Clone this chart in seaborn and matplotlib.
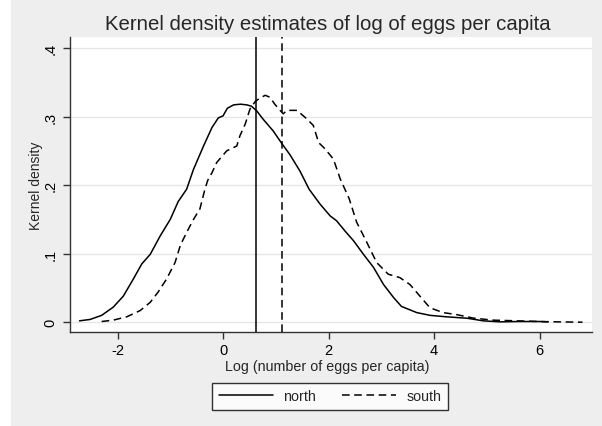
import numpy as np
import pandas as pd
import matplotlib
matplotlib.use("Agg")
import matplotlib.pyplot as plt
from matplotlib.lines import Line2D
from matplotlib.patches import Rectangle
import seaborn as sns

# ---- data ----
north_x = [-2.72, -2.52, -2.30, -2.08, -1.89, -1.70, -1.54, -1.38, -1.19, -1.00,
           -0.85, -0.69, -0.56, -0.37, -0.21, -0.09, 0.00, 0.08, 0.20, 0.33, 0.45,
           0.54, 0.64, 0.76, 0.95, 1.11, 1.27, 1.46, 1.63, 1.84, 2.03, 2.15, 2.31,
           2.47, 2.66, 2.85, 3.04, 3.23, 3.38, 3.67, 3.92, 4.24, 4.62, 4.93, 5.25,
           5.60, 6.00, 6.15]
north_y = [0.002, 0.004, 0.010, 0.022, 0.038, 0.063, 0.085, 0.099, 0.126, 0.150,
           0.176, 0.194, 0.223, 0.257, 0.284, 0.298, 0.301, 0.312, 0.317, 0.318, 0.317,
           0.315, 0.308, 0.296, 0.279, 0.261, 0.244, 0.220, 0.194, 0.172, 0.155, 0.148, 0.133,
           0.119, 0.099, 0.080, 0.055, 0.036, 0.023, 0.014, 0.010, 0.0078, 0.0058, 0.002, 0.0005,
           0.001, 0.001, 0.0005]

south_x = [-2.30, -2.08, -1.82, -1.57, -1.38, -1.23, -1.07, -0.91, -0.81, -0.69,
           -0.56, -0.44, -0.34, -0.29, -0.21, -0.12, 0.07, 0.26, 0.32, 0.42, 0.51,
           0.61, 0.70, 0.80, 0.89, 0.98, 1.08, 1.14, 1.21, 1.40, 1.58, 1.71, 1.81,
           1.93, 2.09, 2.22, 2.39, 2.53, 2.72, 2.91, 3.13, 3.35, 3.54, 3.73, 3.92,
           4.17, 4.43, 4.74, 5.11, 5.57, 6.00, 6.32, 6.81]
south_y = [0.001, 0.003, 0.008, 0.017, 0.029, 0.044, 0.063, 0.087, 0.112, 0.131,
           0.150, 0.165, 0.195, 0.207, 0.218, 0.233, 0.250, 0.257, 0.272, 0.289, 0.311,
           0.322, 0.327, 0.331, 0.328, 0.318, 0.309, 0.304, 0.309, 0.309, 0.297, 0.287, 0.262,
           0.253, 0.238, 0.209, 0.180, 0.146, 0.117, 0.087, 0.070, 0.065, 0.055, 0.038, 0.021,
           0.014, 0.011, 0.006, 0.003, 0.002, 0.001, 0.0005, 0.0]

north_mean = 0.625
south_mean = 1.12

groups = ["north", "south"]
x_ticks = [-2, 0, 2, 4, 6]
y_ticks = [0, 0.1, 0.2, 0.3, 0.4]
y_tick_labels = ["0", ".1", ".2", ".3", ".4"]

title = "Kernel density estimates of log of eggs per capita"
xlabel = "Log (number of eggs per capita)"
ylabel = "Kernel density"

# ---- build table ----
df = pd.concat([
    pd.DataFrame({"x": north_x, "y": north_y, "group": groups[0]}),
    pd.DataFrame({"x": south_x, "y": south_y, "group": groups[1]}),
], ignore_index=True)

sns.set_theme(style="white")
plt.rcParams["font.family"] = ["Liberation Sans", "DejaVu Sans"]

W, H = 602, 427
fig = plt.figure(figsize=(W / 100, H / 100), dpi=100)
bg = "#eeeeee"
fig.patch.set_facecolor(bg)
fig.patches.append(Rectangle((0, 0), 11 / W, 1, transform=fig.transFigure,
                             facecolor="white", edgecolor="none", zorder=0))

left, right, top, bottom = 70, 592, 38, 333
ax = fig.add_axes([left / W, 1 - bottom / H, (right - left) / W, (bottom - top) / H])
ax.set_facecolor("white")

dash = (5, 3)
sns.lineplot(data=df, x="x", y="y", style="group", dashes={"north": "", "south": dash},
             color="black", linewidth=1.1, estimator=None, sort=False, legend=False, ax=ax)

ax.axvline(north_mean, color="black", linewidth=1.1, zorder=3)
ax.axvline(south_mean, color="black", linewidth=1.1, linestyle=(0, dash), zorder=3)

ax.set_xlim(-2.90, 6.99)
ax.set_ylim(-0.0143, 0.416)
ax.set_xticks(x_ticks)
ax.set_xticklabels([str(t) for t in x_ticks])
ax.set_yticks(y_ticks)
ax.set_yticklabels(y_tick_labels, rotation=90, va="center")
ax.grid(axis="y", color="#e6e6e6", linewidth=1.0)
ax.grid(axis="x", visible=False)
ax.set_axisbelow(True)

for s in ["top", "right"]:
    ax.spines[s].set_visible(False)
for s in ["left", "bottom"]:
    ax.spines[s].set_color("#333333")
    ax.spines[s].set_linewidth(1.0)

ax.tick_params(axis="both", which="major", direction="out", length=5, width=1.0,
               color="#333333", labelsize=10.5, labelcolor="black", left=True, bottom=True)
ax.tick_params(axis="x", pad=3)
ax.tick_params(axis="y", pad=4)

ax.set_xlabel("")
ax.set_ylabel("")
fig.text(327 / W, 1 - 367 / H, xlabel, ha="center", va="center", fontsize=10.3)
fig.text(36 / W, 1 - 186 / H, ylabel, ha="center", va="center", rotation=90, fontsize=10)
fig.text(328 / W, 1 - 25 / H, title, ha="center", va="center", fontsize=14.7)

handles = [Line2D([], [], color="black", linewidth=1.1),
           Line2D([], [], color="black", linewidth=1.1, linestyle=(0, dash))]
leg = fig.legend(handles, groups, loc="center", bbox_to_anchor=(330 / W, 1 - 397.5 / H),
                 ncol=2, frameon=True, fancybox=False, fontsize=10.3,
                 handlelength=3.8, handletextpad=0.7, columnspacing=1.8,
                 borderpad=0.45, borderaxespad=0)
leg.get_frame().set_edgecolor("black")
leg.get_frame().set_linewidth(1.0)
leg.get_frame().set_facecolor("white")

fig.savefig("out.png", dpi=100, facecolor=fig.get_facecolor())
